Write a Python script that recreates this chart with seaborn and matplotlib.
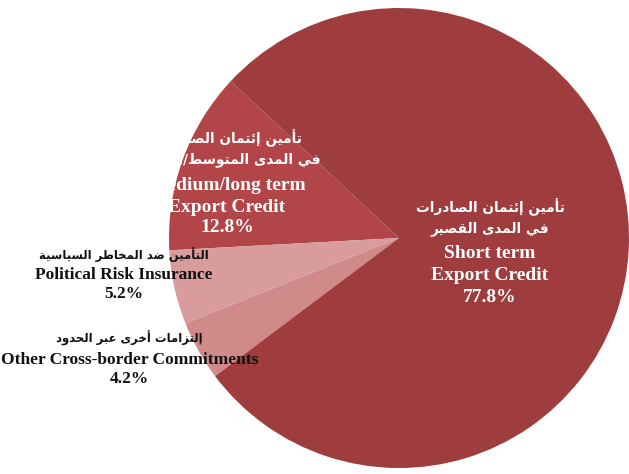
import matplotlib
matplotlib.use("Agg")
import matplotlib.pyplot as plt
import seaborn as sns

# ---------------- data ----------------
categories_en = ["Medium/long term\nExport Credit", "Political Risk Insurance",
                 "Other Cross-border Commitments", "Short term\nExport Credit"]
categories_ar = ["تأمين إئتمان الصادرات\nفي المدى المتوسط/الطويل",
                 "التأمين ضد المخاطر السياسية",
                 "إلتزامات أخرى عبر الحدود",
                 "تأمين إئتمان الصادرات\nفي المدى القصير"]
shares = [12.8, 5.2, 4.2, 77.8]
colors = ["#B24547", "#D99C9C", "#D08A8A", "#9E3C3E"]
text_colors = ["white", "#111111", "#111111", "white"]

# ---------------- simple Arabic shaping (presentation forms) ----------------
_FORMS = {
    'ء': (0xFE80, 1), 'آ': (0xFE81, 2), 'أ': (0xFE83, 2), 'ؤ': (0xFE85, 2),
    'إ': (0xFE87, 2), 'ئ': (0xFE89, 4), 'ا': (0xFE8D, 2), 'ب': (0xFE8F, 4),
    'ة': (0xFE93, 2), 'ت': (0xFE95, 4), 'ث': (0xFE99, 4), 'ج': (0xFE9D, 4),
    'ح': (0xFEA1, 4), 'خ': (0xFEA5, 4), 'د': (0xFEA9, 2), 'ذ': (0xFEAB, 2),
    'ر': (0xFEAD, 2), 'ز': (0xFEAF, 2), 'س': (0xFEB1, 4), 'ش': (0xFEB5, 4),
    'ص': (0xFEB9, 4), 'ض': (0xFEBD, 4), 'ط': (0xFEC1, 4), 'ظ': (0xFEC5, 4),
    'ع': (0xFEC9, 4), 'غ': (0xFECD, 4), 'ف': (0xFED1, 4), 'ق': (0xFED5, 4),
    'ك': (0xFED9, 4), 'ل': (0xFEDD, 4), 'م': (0xFEE1, 4), 'ن': (0xFEE5, 4),
    'ه': (0xFEE9, 4), 'و': (0xFEED, 2), 'ى': (0xFEEF, 2), 'ي': (0xFEF1, 4),
}
_LAMALEF = {'آ': 0xFEF5, 'أ': 0xFEF7, 'إ': 0xFEF9, 'ا': 0xFEFB}


def shape_arabic(s):
    units = []
    i = 0
    while i < len(s):
        c = s[i]
        if c == 'ل' and i + 1 < len(s) and s[i + 1] in _LAMALEF:
            units.append(('LA', _LAMALEF[s[i + 1]]))
            i += 2
        else:
            units.append(('C', c))
            i += 1

    def joins_next(u):
        if u is None or u[0] == 'LA':
            return False
        return u[1] in _FORMS and _FORMS[u[1]][1] == 4

    def is_letter(u):
        return u is not None and (u[0] == 'LA' or u[1] in _FORMS)

    out = []
    for k, u in enumerate(units):
        prev = units[k - 1] if k > 0 else None
        nxt = units[k + 1] if k + 1 < len(units) else None
        jp = joins_next(prev)
        if u[0] == 'LA':
            out.append(chr(u[1] + (1 if jp else 0)))
            continue
        c = u[1]
        if c not in _FORMS:
            out.append(c)
            continue
        base, n = _FORMS[c]
        jn = n == 4 and is_letter(nxt)
        if n == 1:
            out.append(chr(base))
        elif jp and jn:
            out.append(chr(base + 3))
        elif jp:
            out.append(chr(base + 1))
        elif jn:
            out.append(chr(base + 2))
        else:
            out.append(chr(base))
    return ''.join(reversed(out))


# ---------------- figure ----------------
sns.set_theme(style="white")
W, H = 629, 474
fig = plt.figure(figsize=(W / 100, H / 100), dpi=100)
ax = fig.add_axes([0, 0, 1, 1])

cx, cy, R = 399.0, 238.0, 230.0  # pie centre / radius in pixels (from top)

ax.pie(shares, colors=colors, startangle=137, counterclock=True,
       radius=1.0, center=(0, 0), wedgeprops=dict(linewidth=0))

ax.set_xlim(-cx / R, (W - cx) / R)
ax.set_ylim(-(H - cy) / R, cy / R)
ax.set_aspect("equal")
ax.axis("off")


def px(x, y):
    return (x - cx) / R, (cy - y) / R


serif = ["Liberation Serif", "DejaVu Serif"]
arab = ["DejaVu Sans"]

# label layout (pixel positions of each line centre)
layouts = [
    (227, [138, 160, 185, 207, 228], 14, 9.8),
    (123.5, [255, 275, 294], 12.5, 8.4),
    (129.5, [338, 360, 379], 12.5, 8.4),
    (490, [207, 229, 253, 275, 297], 14, 9.8),
]

for i in range(len(shares)):
    xc, ys, fs_en, fs_ar = layouts[i]
    ar_lines = categories_ar[i].split("\n")
    en_lines = categories_en[i].split("\n")
    lines = [(shape_arabic(t), arab, fs_ar) for t in ar_lines]
    lines += [(t, serif, fs_en) for t in en_lines]
    lines += [(f"{shares[i]:.1f}%", serif, fs_en)]
    for (txt, fam, fs), yp in zip(lines, ys):
        x, y = px(xc, yp)
        ax.text(x, y, txt, ha="center", va="center", fontsize=fs,
                fontweight="bold", family=fam, color=text_colors[i])

fig.savefig("out.png", dpi=100)
